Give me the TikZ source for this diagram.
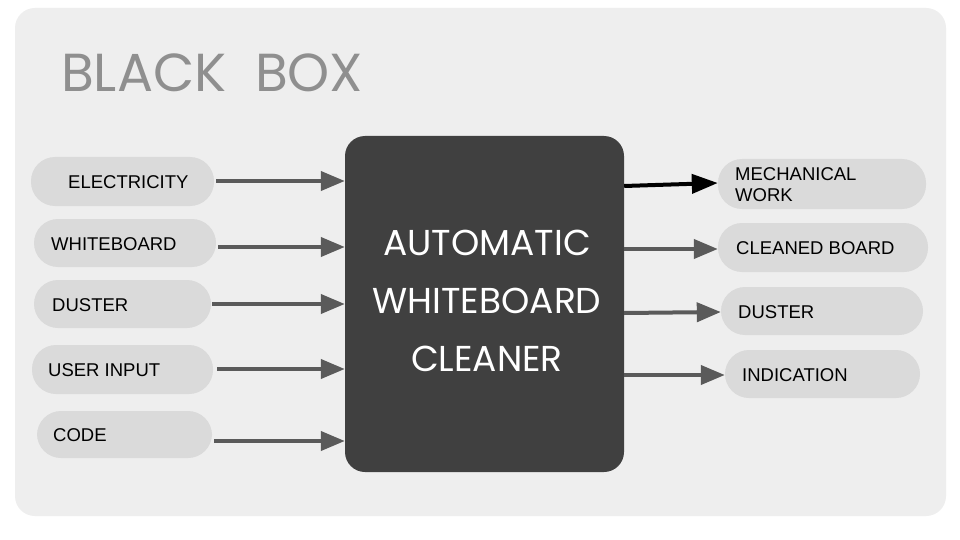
\documentclass[tikz,border=0pt]{standalone}
\usepackage{fontspec}
\setmainfont{Liberation Sans}
\newfontfamily\geofont{Poppins}
\usetikzlibrary{arrows.meta,calc}
\definecolor{bgpanel}{HTML}{EEEEEE}
\definecolor{pillgray}{HTML}{DADADA}
\definecolor{boxdark}{HTML}{404040}
\definecolor{arrgray}{HTML}{5A5A5A}
\definecolor{titlegray}{HTML}{8F8F8F}
\tikzset{
  pill/.style={fill=pillgray, draw=none, rounded corners=24pt, inner sep=0pt, minimum height=48pt},
  lbl/.style={anchor=west, inner sep=0pt, font=\fontsize{18.5}{21}\selectfont, text=black},
  arr/.style={draw=arrgray, line width=4pt, -{Triangle[length=24pt,width=19pt]}},
  arrblk/.style={draw=black, line width=4pt, -{Triangle[length=26pt,width=19pt]}},
}
\begin{document}
\begin{tikzpicture}[x=1pt,y=-1pt]
\useasboundingbox (0,0) rectangle (960,540);
\fill[white] (0,0) rectangle (960,540);
\node[fill=bgpanel, rounded corners=20pt, minimum width=931pt, minimum height=508pt, inner sep=0pt] (panel) at (480.5,262) {};
\node[anchor=west, inner sep=0pt, text=titlegray, font=\geofont\fontsize{53.5}{55}\selectfont] (title) at (61,72.5) {BLACK\ \ BOX};
\node[fill=boxdark, rounded corners=20pt, minimum width=279pt, minimum height=336pt, inner sep=0pt] (box) at (484.5,304) {};
\node[text=white, font=\geofont\fontsize{36}{58}\selectfont, align=center, inner sep=0pt] (boxtext) at (487,301) {AUTOMATIC\\WHITEBOARD\\CLEANER};
% left pills
\node[pill, minimum width=183pt, minimum height=49pt] (E) at (122.5,181.5) {};
\node[lbl] (Et) at (68,182) {ELECTRICITY};
\node[pill, minimum width=182pt] (W) at (125,243) {};
\node[lbl] (Wt) at (51,244) {WHITEBOARD};
\node[pill, minimum width=177pt] (D) at (122.5,304) {};
\node[lbl] (Dt) at (52,305) {DUSTER};
\node[pill, minimum width=181pt, minimum height=49pt] (U) at (122.5,369.5) {};
\node[lbl] (Ut) at (48,370) {USER INPUT};
\node[pill, minimum width=175pt, minimum height=47pt] (C) at (124.5,434.5) {};
\node[lbl] (Ct) at (53,435) {CODE};
% right pills
\node[pill, minimum width=208pt, minimum height=50pt] (M) at (822,184) {};
\node[lbl, align=left, font=\fontsize{18.5}{21}\selectfont] (Mt) at (735,184.5) {MECHANICAL\\WORK};
\node[pill, minimum width=210pt, minimum height=49pt] (B) at (823,247.5) {};
\node[lbl] (Bt) at (736,248) {CLEANED BOARD};
\node[pill, minimum width=202pt] (D2) at (822,311) {};
\node[lbl] (D2t) at (738,312) {DUSTER};
\node[pill, minimum width=195pt] (I) at (822.5,374) {};
\node[lbl] (It) at (742,375) {INDICATION};
% input arrows
\draw[arr] ([xshift=2pt,yshift=0.5pt]E.east) -- ([yshift=0.5pt]E.east -| box.west);
\draw[arr] ([xshift=2pt,yshift=-4pt]W.east) -- ([yshift=-4pt]W.east -| box.west);
\draw[arr] ([xshift=1pt]D.east) -- (D.east -| box.west);
\draw[arr] ([xshift=4pt,yshift=0.5pt]U.east) -- ([yshift=0.5pt]U.east -| box.west);
\draw[arr] ([xshift=2pt,yshift=-6.5pt]C.east) -- ([yshift=-6.5pt]C.east -| box.west);
% output arrows
\draw[arrblk] ([yshift=-2pt]M.west -| box.east) -- ([yshift=1pt]M.west);
\draw[arr] ([yshift=-1.5pt]B.west -| box.east) -- ([yshift=-1.5pt]B.west);
\draw[arr] ([yshift=-2pt]D2.west -| box.east) -- ([yshift=-1pt]D2.west);
\draw[arr] ([yshift=-1pt]I.west -| box.east) -- ([yshift=-1pt]I.west);
\end{tikzpicture}
\end{document}
